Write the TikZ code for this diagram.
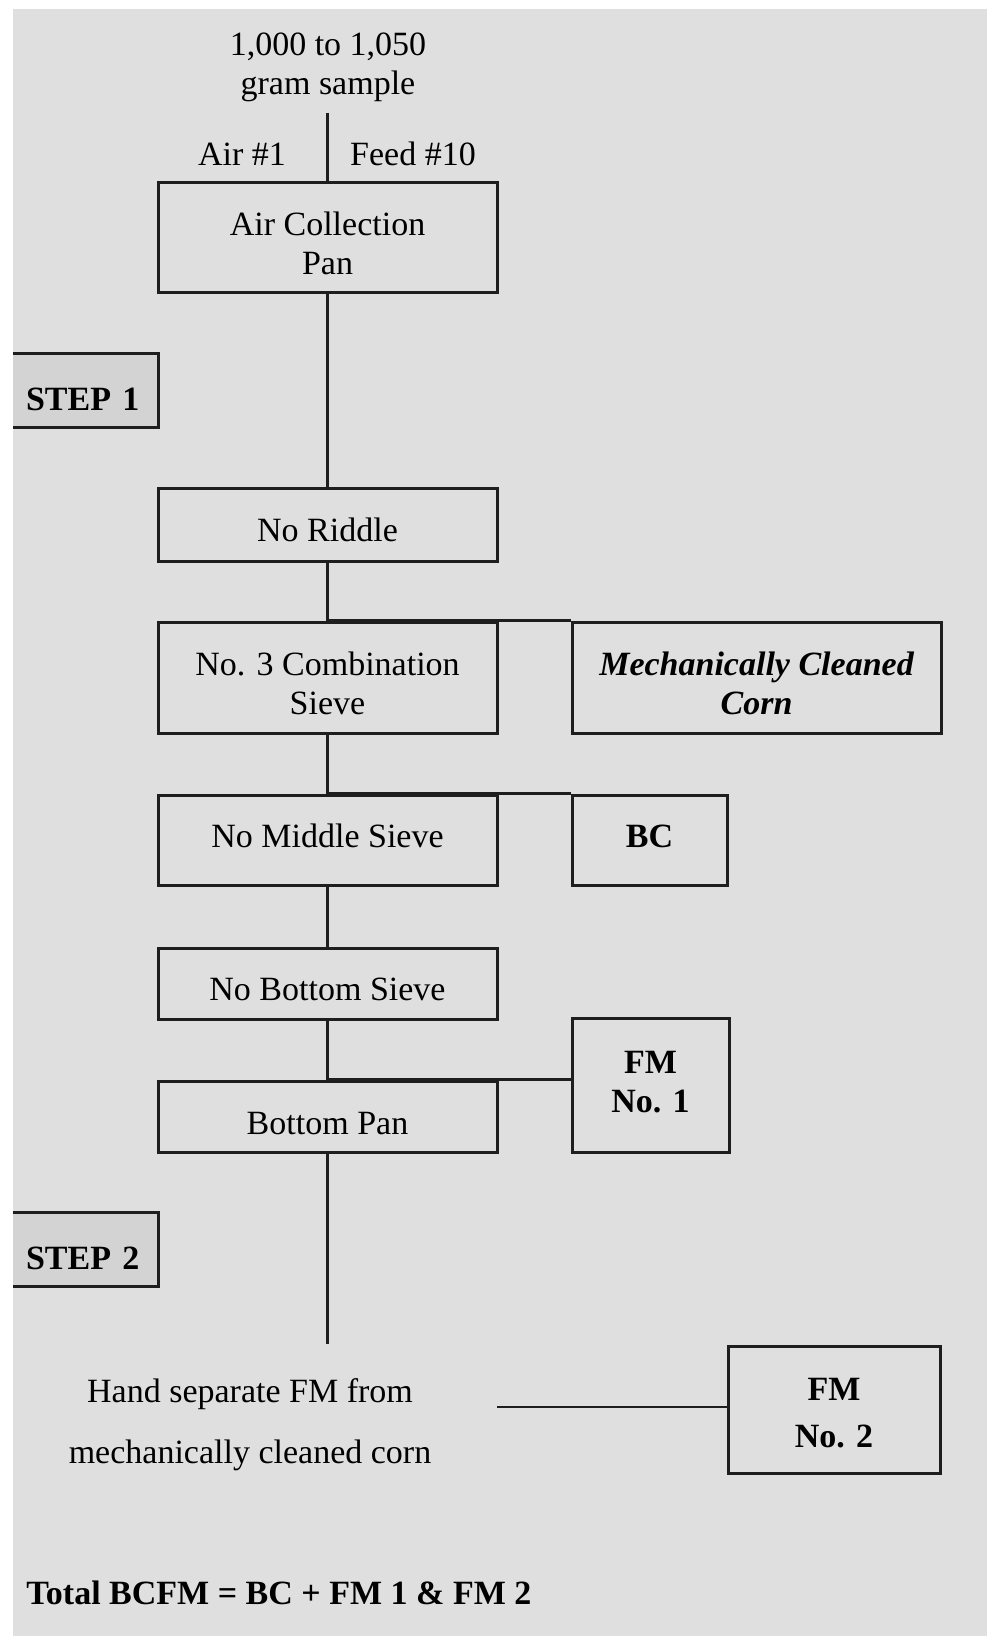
\documentclass[tikz,border=0pt]{standalone}
\usepackage{fontspec}
\setmainfont{Liberation Serif}
\usetikzlibrary{positioning}

\definecolor{paper}{HTML}{DFDFDF}
\definecolor{stepfill}{HTML}{D3D3D3}
\definecolor{ink}{HTML}{1E1E1E}

\tikzset{
  stage/.style={draw=ink, line width=1.5pt, rectangle, align=center, inner sep=0pt, minimum width=169.5pt, text height=17.4pt},
  result/.style={draw=ink, line width=1.5pt, rectangle, align=center, inner sep=0pt, font=\bfseries},
  steptag/.style={fill=stepfill, minimum width=72.5pt, minimum height=36.5pt, inner ysep=0pt, inner xsep=6.5pt,
    text width=59.5pt, align=left, text height=20pt, font=\bfseries},
  link/.style={draw=ink, line width=1.25pt},
}

\begin{document}
\fontsize{17}{19.5}\selectfont
\begin{tikzpicture}[x=0.5pt,y=-0.5pt,on grid]
   \useasboundingbox (0,0) rectangle (995,1636);
   \fill[paper] (13,9) rectangle (987,1636);

   \node[align=center] (sample) at (328,67.5) {1,000 to 1,050\\gram sample};
   \coordinate (feed) at (327.5,113);
   \node[anchor=base] (air) at (242,165.5) {Air \#1};
   \node[anchor=base] (feedno) at (413,165.5) {Feed \#10};

   \node[stage, minimum height=55pt, text height=36.9pt] (acp) at (327.5,238) {Air Collection\\Pan};
   \node[stage, minimum height=36.5pt] (riddle) [below=143.25pt of acp] {No Riddle};
   \node[stage, minimum height=55.5pt, text height=36.9pt] (combo) [below=76.5pt of riddle] {No. 3 Combination\\Sieve};
   \node[stage, minimum height=45pt, text height=11.6pt, text depth=4pt] (middle) [below=81.25pt of combo] {No Middle Sieve};
   \node[stage, minimum height=35.5pt] (bottom) [below=71.75pt of middle] {No Bottom Sieve};
   \node[stage, minimum height=35.5pt, text height=18.5pt] (pan) [below=66.5pt of bottom] {Bottom Pan};

   \node[result, minimum width=184.5pt, minimum height=55.5pt, text height=36.9pt, font=\bfseries\itshape] (mcc) [right=214.5pt of combo] {Mechanically Cleaned\\Corn};
   \node[result, minimum width=77.5pt, minimum height=45pt, text depth=4pt] (bc) [right=161pt of middle] {BC};
   \node[result, minimum width=78.5pt, minimum height=67pt, text depth=3pt] (fm1) [above right=15.75pt and 161.5pt of pan] {FM\\No. 1};

   \node[steptag] (step1) at (85.5,390.5) {STEP 1};
   \node[steptag] (step2) at (85.5,1249.5) {STEP 2};

   \coordinate (handtop) at (327.5,1344);
   \node[align=center, font=\fontsize{17}{30.5}\selectfont] (hand) at (250,1424.5) {Hand separate FM from\\mechanically cleaned corn};
   \coordinate (handend) at (497,1407);
   \node[result, minimum width=106pt, minimum height=63.5pt, text height=37.8pt, font=\bfseries\fontsize{17}{23.5}\selectfont] (fm2) at (834,1409.5) {FM\\No. 2};

   \node[anchor=base west, inner sep=0pt, font=\bfseries] (total) at (26,1604.5) {Total BCFM = BC + FM 1 \& FM 2};

   \draw[draw=ink, line width=1.5pt] (step1.north west) -| (step1.south east) -- (step1.south west);
   \draw[draw=ink, line width=1.5pt] (step2.north west) -| (step2.south east) -- (step2.south west);

    \path[link]
    (feed) edge (acp)
    (acp) edge (riddle)
    (riddle) edge (combo)
    (combo) edge (middle)
    (middle) edge (bottom)
    (bottom) edge (pan)
    (pan) edge (handtop)
    (combo.north) edge (mcc.north west)
    (middle.north) edge (bc.north west)
    (pan.north) edge (pan.north -| fm1.west)
    (handend) edge (handend -| fm2.west);
\end{tikzpicture}
\end{document}
